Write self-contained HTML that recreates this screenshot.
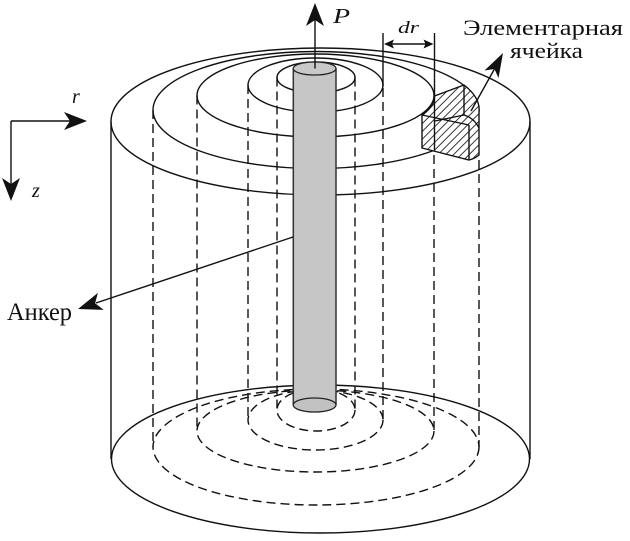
<!DOCTYPE html>
<html>
<head>
<meta charset="utf-8">
<style>
html,body{margin:0;padding:0;background:#fff;}
svg{display:block;}
text{font-family:"Liberation Serif","DejaVu Serif",serif;fill:#111;}
</style>
</head>
<body>
<svg width="630" height="541" viewBox="0 0 630 541" xmlns="http://www.w3.org/2000/svg">
<defs>
<pattern id="hatch" patternUnits="userSpaceOnUse" width="5.5" height="5.5" patternTransform="rotate(45)">
<line x1="1" y1="0" x2="1" y2="5.5" stroke="#222" stroke-width="0.9"/>
</pattern>
</defs>

<!-- Outer cylinder -->
<g fill="none" stroke="#111" stroke-width="1.4">
<ellipse cx="320.5" cy="459" rx="209" ry="74"/>
<line x1="111" y1="121.5" x2="111" y2="459"/>
<line x1="530" y1="121.5" x2="530" y2="459"/>
</g>

<!-- Bottom dashed ellipses -->
<g fill="none" stroke="#111" stroke-width="1.4" stroke-dasharray="9 5">
<ellipse cx="316" cy="447" rx="163" ry="58"/>
<ellipse cx="315.5" cy="431" rx="118.5" ry="41"/>
<ellipse cx="315.5" cy="420" rx="67.5" ry="30"/>
<ellipse cx="316" cy="410" rx="39" ry="21"/>
</g>

<!-- Dashed verticals -->
<g fill="none" stroke="#111" stroke-width="1.4" stroke-dasharray="9 5">
<line x1="153" y1="110" x2="153" y2="447"/>
<line x1="479" y1="160" x2="479" y2="447"/>
<line x1="197" y1="95.5" x2="197" y2="431"/>
<line x1="434" y1="155" x2="434" y2="431"/>
<line x1="248" y1="85" x2="248" y2="420"/>
<line x1="383" y1="88" x2="383" y2="420"/>
<line x1="277" y1="77.5" x2="277" y2="410"/>
<line x1="355" y1="77.5" x2="355" y2="410"/>
</g>

<!-- Top ellipses -->
<g fill="none" stroke="#111" stroke-width="1.4">
<ellipse cx="320.5" cy="121.5" rx="209.5" ry="73.5"/>
<ellipse cx="316" cy="110" rx="163" ry="58.5"/>
<ellipse cx="315.5" cy="95.5" rx="118.5" ry="41.5"/>
<ellipse cx="315.5" cy="85" rx="67.5" ry="27"/>
<ellipse cx="316" cy="77.5" rx="39" ry="15.5"/>
</g>

<!-- dr dimension -->
<g stroke="#111" stroke-width="1.4" fill="none">
<line x1="383" y1="33" x2="383" y2="86"/>
<line x1="434.5" y1="33" x2="434.5" y2="150"/>
<line x1="390" y1="44" x2="427" y2="44"/>
</g>
<polygon points="384,44 394,39.5 392,44 394,48.5" fill="#111"/>
<polygon points="433.5,44 423.5,39.5 425.5,44 423.5,48.5" fill="#111"/>

<!-- Elementary cell -->
<path d="M422,115 A118.5,41.5 0 0 0 434.5,96 L464,85 A163,58.5 0 0 1 479,112 L479,155 Q474,159 469,160 L422,148 Z" fill="#fff" stroke="none"/>
<path d="M422,115 A118.5,41.5 0 0 0 434.5,96 L464,85 A163,58.5 0 0 1 479,112 L479,155 Q474,159 469,160 L422,148 Z" fill="url(#hatch)" stroke="#111" stroke-width="1.4"/>
<g stroke="#111" stroke-width="1.4" fill="none">
<line x1="434.5" y1="96" x2="434.5" y2="150"/>
<line x1="422" y1="115" x2="469" y2="125"/>
<line x1="469" y1="125" x2="469" y2="160"/>
<line x1="464" y1="85" x2="464" y2="115"/>
<line x1="435" y1="121" x2="464" y2="115"/>
<path d="M464,115 Q474,118 479,128"/>
</g>

<!-- Anchor rod -->
<rect x="293" y="68.5" width="43" height="336.5" fill="#c6c6c6"/>
<line x1="293.3" y1="68.5" x2="293.3" y2="405" stroke="#333" stroke-width="1.5"/>
<line x1="336" y1="68.5" x2="336" y2="405" stroke="#333" stroke-width="1.5"/>
<ellipse cx="314.6" cy="405" rx="21.4" ry="7" fill="#c2c2c2" stroke="#222" stroke-width="1.3"/>
<ellipse cx="314.6" cy="68.5" rx="21.4" ry="6.5" fill="#c8c8c8" stroke="#222" stroke-width="1.3"/>

<!-- P arrow -->
<line x1="315" y1="68.5" x2="315" y2="18" stroke="#111" stroke-width="1.4"/>
<polygon points="315,3 324,26 315,20 306,26" fill="#111"/>
<text x="333" y="23" font-size="21" font-style="italic" textLength="17" lengthAdjust="spacingAndGlyphs">P</text>
<text x="398" y="33" font-size="17" font-style="italic" textLength="21" lengthAdjust="spacingAndGlyphs">dr</text>

<!-- Cell label -->
<text x="463" y="35" font-size="22" textLength="160" lengthAdjust="spacingAndGlyphs">Элементарная</text>
<text x="510" y="58" font-size="22" textLength="73" lengthAdjust="spacingAndGlyphs">ячейка</text>
<line x1="471" y1="111" x2="495" y2="68" stroke="#111" stroke-width="1.4"/>
<polygon points="503,53 498.5,78 494.5,69 484.5,70.5" fill="#111"/>

<!-- Anchor label -->
<line x1="293" y1="237" x2="96" y2="303" stroke="#111" stroke-width="1.4"/>
<polygon points="78,309 97.9,292.9 95.1,303.3 103.7,309.9" fill="#111"/>
<text x="7" y="320" font-size="25" textLength="65" lengthAdjust="spacingAndGlyphs">Анкер</text>

<!-- Axes -->
<line x1="11" y1="121" x2="72" y2="121" stroke="#111" stroke-width="1.4"/>
<polygon points="87,121 64,112 70,121 64,130" fill="#111"/>
<line x1="11" y1="121" x2="11" y2="186" stroke="#111" stroke-width="1.4"/>
<polygon points="11,201 2,178 11,184 20,178" fill="#111"/>
<text x="72" y="103" font-size="20" font-style="italic">r</text>
<text x="32" y="197" font-size="20" font-style="italic">z</text>
</svg>
</body>
</html>
